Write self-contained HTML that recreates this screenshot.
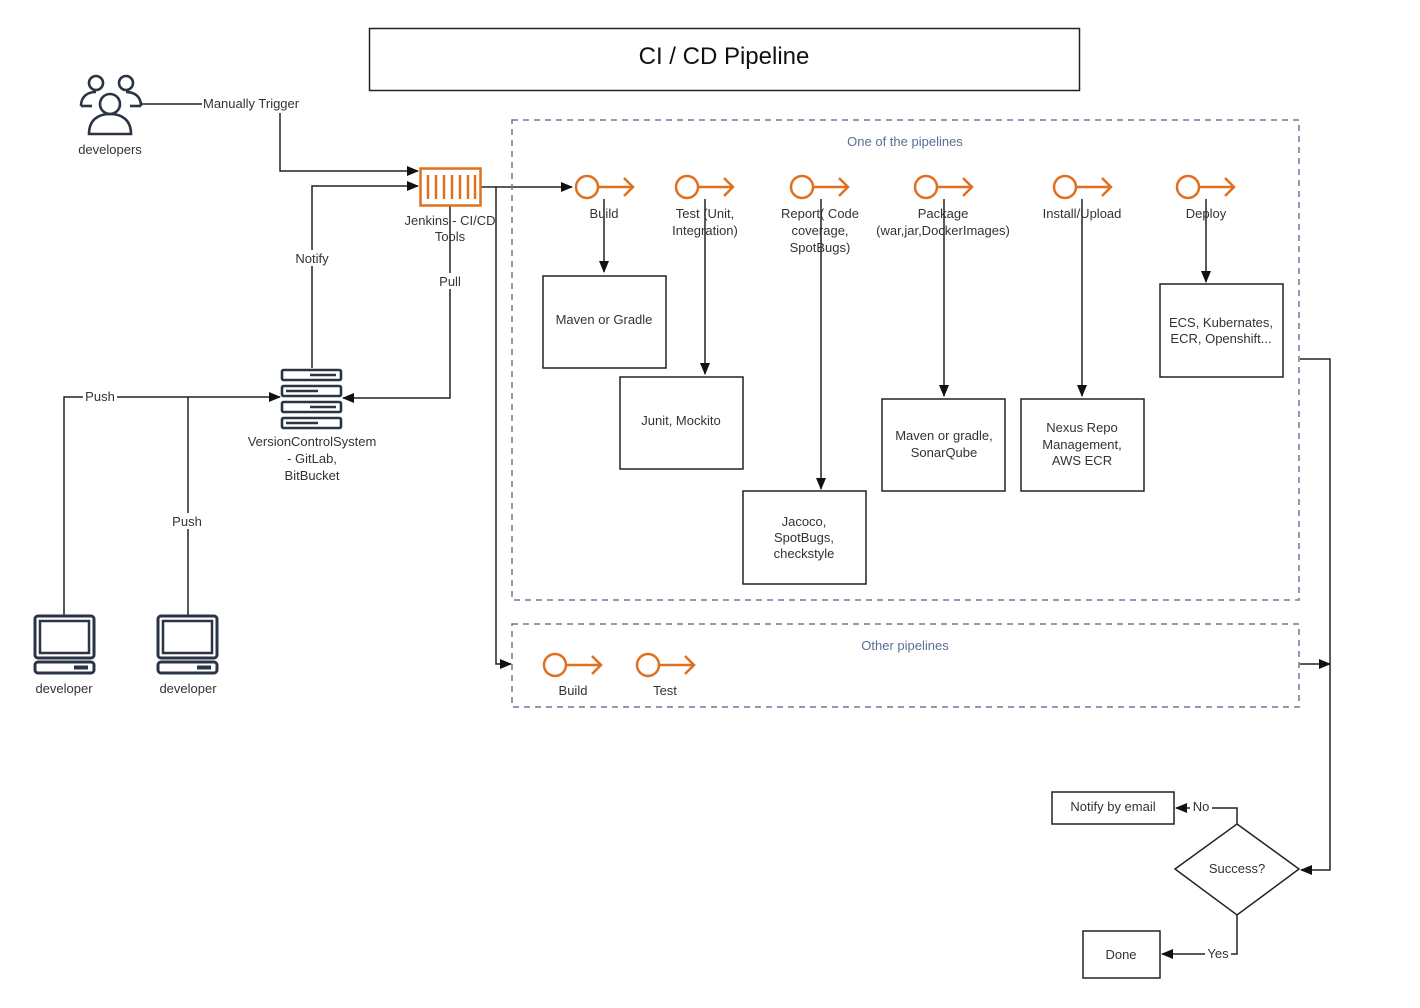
<!DOCTYPE html>
<html><head><meta charset="utf-8"><style>
html,body{margin:0;padding:0;background:#fff;}
svg{display:block;font-family:"Liberation Sans",Arial,sans-serif;}
text{fill:#333;font-size:13px;}
</style></head><body>
<svg width="1420" height="1008" viewBox="0 0 1420 1008" xmlns="http://www.w3.org/2000/svg">
<defs>
<marker id="a" markerWidth="12" markerHeight="10" refX="11" refY="5" orient="auto" markerUnits="userSpaceOnUse">
<path d="M0,0 L12,5 L0,10 Z" fill="#111"/></marker>
<g id="stage"><circle cx="0" cy="0" r="11" fill="none" stroke="#e07020" stroke-width="2.5"/><path d="M11,0 H46 M37,-9 L46,0 L37,9" fill="none" stroke="#e07020" stroke-width="2.5"/></g>
<g id="laptop" fill="none" stroke="#2a3444" stroke-width="3"><rect x="1" y="1" width="59" height="42" rx="3"/><rect x="6" y="6" width="49" height="32" stroke-width="2.5"/><rect x="1" y="47" width="59" height="11" rx="3"/><line x1="40" y1="52.5" x2="54" y2="52.5" stroke-width="4"/></g>
</defs>

<!-- Title -->
<rect x="369.5" y="28.5" width="710" height="62" fill="none" stroke="#222" stroke-width="1.5"/>
<text x="724" y="64" text-anchor="middle" style="font-size:24px;fill:#111">CI / CD Pipeline</text>

<!-- developers icon -->
<g fill="none" stroke="#2a3444" stroke-width="2.6">
<circle cx="96" cy="83" r="7"/><circle cx="126" cy="83" r="7"/>
<path d="M81,106 C81,96 88,92 96,92"/><path d="M141,106 C141,96 134,92 126,92"/>
<path d="M81,106 H92"/><path d="M130,106 H141"/>
<circle cx="110" cy="104" r="10"/>
<path d="M89,134 C89,120 98,114 110,114 C122,114 131,120 131,134 Z"/>
</g>
<text x="110" y="154" text-anchor="middle">developers</text>

<!-- Manually trigger -->
<g stroke="#222" stroke-width="1.5" fill="none">
<path d="M141,104 H202"/>
<path d="M280,113 V171 H418" marker-end="url(#a)"/>
<path d="M312,368 V186 H418" marker-end="url(#a)"/>
<path d="M450,206 V398 H343" marker-end="url(#a)"/>
<path d="M64,615 V397 H280" marker-end="url(#a)"/>
<path d="M188,615 V397"/>
<path d="M480,187 H572" marker-end="url(#a)"/>
<path d="M496,187 V664 H511" marker-end="url(#a)"/>
<path d="M604,199 V272" marker-end="url(#a)"/>
<path d="M705,199 V374" marker-end="url(#a)"/>
<path d="M821,199 V489" marker-end="url(#a)"/>
<path d="M944,199 V396" marker-end="url(#a)"/>
<path d="M1082,199 V396" marker-end="url(#a)"/>
<path d="M1206,199 V282" marker-end="url(#a)"/>
<path d="M1300,359 H1330 V870 H1301" marker-end="url(#a)"/>
<path d="M1300,664 H1330" marker-end="url(#a)"/>
<path d="M1237,824 V808 H1176" marker-end="url(#a)"/>
<path d="M1237,915 V954 H1162" marker-end="url(#a)"/>
</g>
<g style="font-size:13px">
<rect x="202" y="96" width="103" height="16" fill="#fff"/>
<text x="203" y="108">Manually Trigger</text>
<rect x="292" y="250" width="40" height="16" fill="#fff"/>
<text x="312" y="263" text-anchor="middle">Notify</text>
<rect x="436" y="273" width="28" height="16" fill="#fff"/>
<text x="450" y="286" text-anchor="middle">Pull</text>
<rect x="83" y="389" width="34" height="15" fill="#fff"/>
<text x="100" y="401" text-anchor="middle">Push</text>
<rect x="170" y="513" width="36" height="16" fill="#fff"/>
<text x="187" y="526" text-anchor="middle">Push</text>
<rect x="1190" y="799" width="22" height="15" fill="#fff"/>
<text x="1201" y="811" text-anchor="middle">No</text>
<rect x="1205" y="946" width="26" height="15" fill="#fff"/>
<text x="1218" y="958" text-anchor="middle">Yes</text>
</g>

<!-- Jenkins icon -->
<rect x="420.5" y="168.5" width="60" height="37" fill="#fff" stroke="#e07020" stroke-width="2.5"/>
<g stroke="#e07020" stroke-width="2.5"><line x1="428" y1="175" x2="428" y2="199"/><line x1="436" y1="175" x2="436" y2="199"/><line x1="444" y1="175" x2="444" y2="199"/><line x1="452" y1="175" x2="452" y2="199"/><line x1="460" y1="175" x2="460" y2="199"/><line x1="468" y1="175" x2="468" y2="199"/><line x1="475" y1="175" x2="475" y2="199"/></g>
<text x="450" y="225" text-anchor="middle">Jenkins - CI/CD</text>
<text x="450" y="241" text-anchor="middle">Tools</text>

<!-- VCS icon -->
<g fill="#fff" stroke="#2a3444" stroke-width="2.6">
<rect x="282" y="370" width="59" height="10" rx="1.5"/><rect x="282" y="386" width="59" height="10" rx="1.5"/><rect x="282" y="402" width="59" height="10" rx="1.5"/><rect x="282" y="418" width="59" height="10" rx="1.5"/>
</g>
<g stroke="#2a3444" stroke-width="2.5"><line x1="310" y1="375" x2="336" y2="375"/><line x1="286" y1="391" x2="318" y2="391"/><line x1="310" y1="407" x2="336" y2="407"/><line x1="286" y1="423" x2="318" y2="423"/></g>
<text x="312" y="446" text-anchor="middle">VersionControlSystem</text>
<text x="312" y="463" text-anchor="middle">- GitLab,</text>
<text x="312" y="480" text-anchor="middle">BitBucket</text>

<!-- laptops -->
<use href="#laptop" x="34" y="615"/>
<use href="#laptop" x="157" y="615"/>
<text x="64" y="693" text-anchor="middle">developer</text>
<text x="188" y="693" text-anchor="middle">developer</text>

<!-- dashed groups -->
<rect x="512" y="120" width="787" height="480" fill="none" stroke="#6a7a96" stroke-width="1.5" stroke-dasharray="6,5"/>
<text x="905" y="146" text-anchor="middle" style="fill:#5a6e94">One of the pipelines</text>
<rect x="512" y="624" width="787" height="83" fill="none" stroke="#6a7a96" stroke-width="1.5" stroke-dasharray="6,5"/>
<text x="905" y="650" text-anchor="middle" style="fill:#5a6e94">Other pipelines</text>

<!-- stages -->
<use href="#stage" x="587" y="187"/>
<use href="#stage" x="687" y="187"/>
<use href="#stage" x="802" y="187"/>
<use href="#stage" x="926" y="187"/>
<use href="#stage" x="1065" y="187"/>
<use href="#stage" x="1188" y="187"/>
<use href="#stage" x="555" y="665"/>
<use href="#stage" x="648" y="665"/>
<g text-anchor="middle">
<text x="604" y="218">Build</text>
<text x="705" y="218">Test (Unit,</text><text x="705" y="235">Integration)</text>
<text x="820" y="218">Report( Code</text><text x="820" y="235">coverage,</text><text x="820" y="252">SpotBugs)</text>
<text x="943" y="218">Package</text><text x="943" y="235">(war,jar,DockerImages)</text>
<text x="1082" y="218">Install/Upload</text>
<text x="1206" y="218">Deploy</text>
<text x="573" y="695">Build</text>
<text x="665" y="695">Test</text>
</g>

<!-- boxes -->
<g fill="#fff" stroke="#222" stroke-width="1.5">
<rect x="543" y="276" width="123" height="92"/>
<rect x="620" y="377" width="123" height="92"/>
<rect x="743" y="491" width="123" height="93"/>
<rect x="882" y="399" width="123" height="92"/>
<rect x="1021" y="399" width="123" height="92"/>
<rect x="1160" y="284" width="123" height="93"/>
<rect x="1052" y="792" width="122" height="32"/>
<rect x="1083" y="931" width="77" height="47"/>
<path d="M1237,824 L1299,869 L1237,915 L1175,869 Z"/>
</g>
<g text-anchor="middle">
<text x="604" y="324">Maven or Gradle</text>
<text x="681" y="425">Junit, Mockito</text>
<text x="804" y="526">Jacoco,</text><text x="804" y="542">SpotBugs,</text><text x="804" y="558">checkstyle</text>
<text x="944" y="440">Maven or gradle,</text><text x="944" y="457">SonarQube</text>
<text x="1082" y="432">Nexus Repo</text><text x="1082" y="449">Management,</text><text x="1082" y="465">AWS ECR</text>
<text x="1221" y="327">ECS, Kubernates,</text><text x="1221" y="343">ECR, Openshift...</text>
<text x="1113" y="811">Notify by email</text>
<text x="1121" y="959">Done</text>
<text x="1237" y="873">Success?</text>
</g>
</svg>
</body></html>
